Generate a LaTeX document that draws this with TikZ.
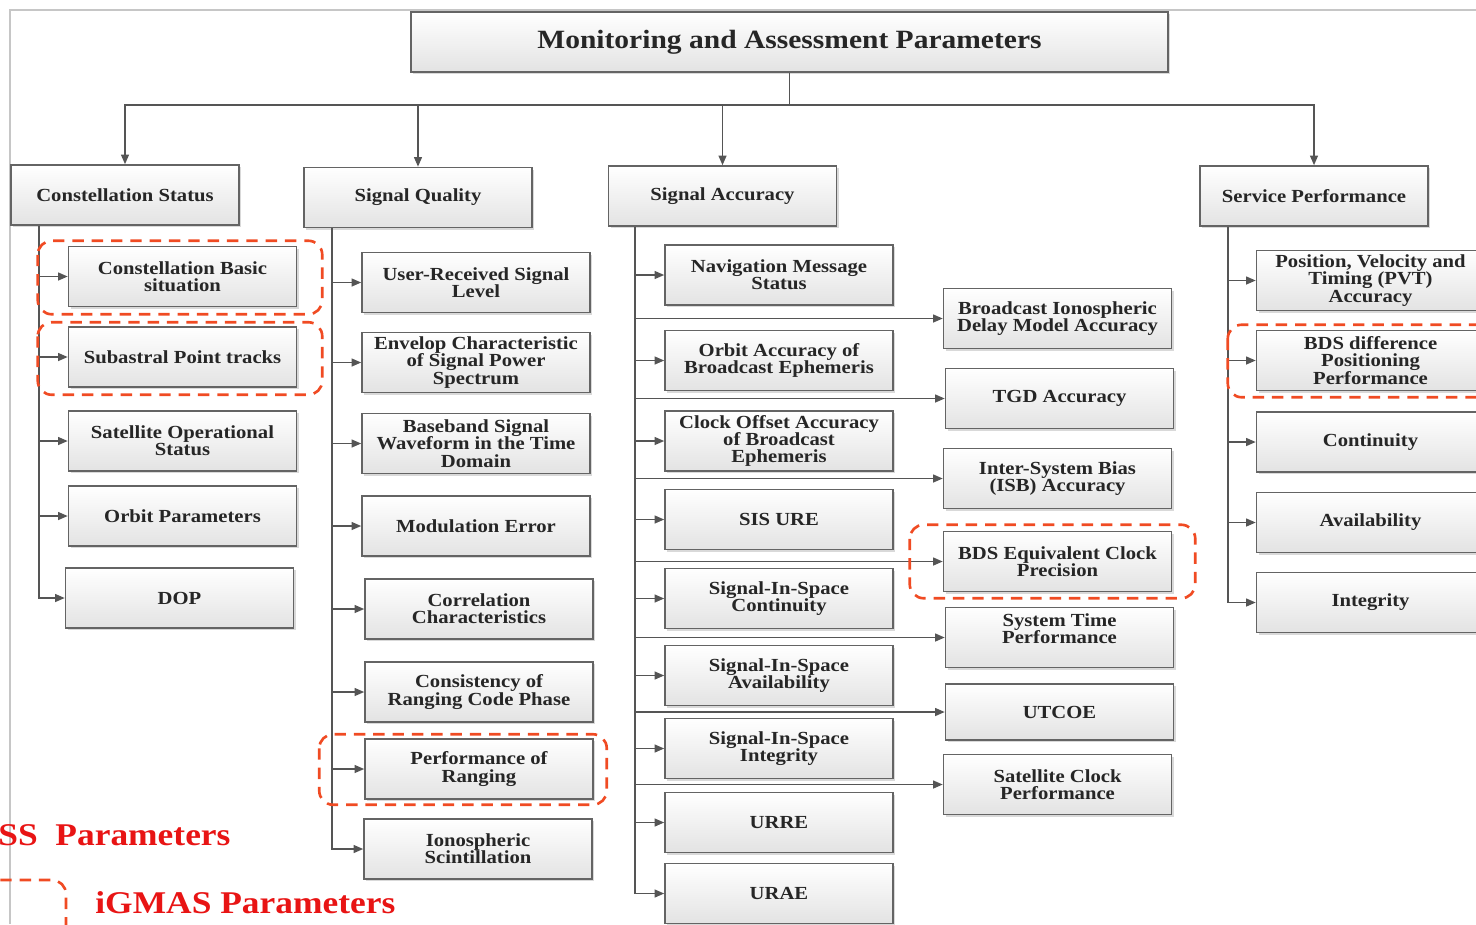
\documentclass[tikz,border=0pt]{standalone}
\usepackage{fontspec}
\setmainfont{Liberation Serif}[FakeStretch=1.12]
\usepackage{xcolor}
\usepackage{tikz}
\usetikzlibrary{arrows.meta,positioning,calc,shadows}
\definecolor{boxgray}{RGB}{100,100,100}
\definecolor{linkgray}{RGB}{85,85,85}
\definecolor{hlred}{RGB}{240,75,35}
\definecolor{legred}{RGB}{232,20,20}

\begin{document}
\begin{tikzpicture}[x=0.02cm, y=-0.02cm,
  pbox/.style={draw=boxgray, line width=0.9pt, top color=white, bottom color=gray!22,
               minimum width=4.56cm, minimum height=1.2cm, inner sep=1pt, align=center,
               font=\fontsize{10.5}{9.8}\selectfont\bfseries, text=black!85,
               drop shadow={shadow xshift=1.3pt, shadow yshift=-1.3pt, opacity=0.3}},
  arr/.style={-{Triangle[length=5.5pt,width=4.5pt]}, line width=0.9pt, draw=linkgray},
  link/.style={line width=0.9pt, draw=linkgray},
  hl/.style={draw=hlred, line width=1.5pt, dash pattern=on 6.5pt off 4.5pt, rounded corners=8pt},
  legend/.style={font=\fontsize{18}{20}\selectfont\bfseries, text=legred, inner sep=0pt, anchor=west}
]
\clip (0,0) rectangle (1476,924);
\draw[gray!45, line width=0.6pt] (10,924) -- (10,10) -- (1476,10);

% top level
\node[pbox, minimum width=15.14cm, font=\fontsize{15}{17}\selectfont\bfseries] (mon) at (789.5,42)
  {Monitoring and Assessment Parameters};

\node[pbox] (cs) at (125,195) {Constellation Status};
\node[pbox] (sq) at (418,197.5) {Signal Quality};
\node[pbox] (sa) at (722.5,196) {Signal Accuracy};
\node[pbox] (sp) at (1314,196) {Service Performance};

\draw[link] (mon.south) -- ++(0,32) coordinate (split);
\foreach \n in {cs,sq,sa,sp}
  \draw[arr] (split) -| (\n);

% constellation status
\node[pbox] (cb)  at (182.5,276.5) {Constellation Basic\\situation};
\node[pbox] (spt) at (182.5,357) {Subastral Point tracks};
\node[pbox] (sos) at (182.5,441) {Satellite Operational\\Status};
\node[pbox] (op)  at (182.5,516) {Orbit Parameters};
\node[pbox] (dop) at (179.5,598) {DOP};

\coordinate (csT) at ($(cs.south west)+(29,0)$);
\draw[arr] (csT) |- (dop);
\foreach \n in {cb,spt,sos,op}
  \draw[arr] (csT |- \n) -- (\n);

% signal quality
\node[pbox] (ursl) at (476,282.5) {User-Received Signal\\Level};
\node[pbox] (env)  at (476,362.5) {Envelop Characteristic\\of Signal Power\\Spectrum};
\node[pbox] (bsw)  at (476,443.5) {Baseband Signal\\Waveform in the Time\\Domain};
\node[pbox] (me)   at (476,526) {Modulation Error};
\node[pbox] (cc)   at (479,609) {Correlation\\Characteristics};
\node[pbox] (crcp) at (479,692) {Consistency of\\Ranging Code Phase};
\node[pbox] (pr)   at (479,769) {Performance of\\Ranging};
\node[pbox] (isc)  at (478,849) {Ionospheric\\Scintillation};

\coordinate (sqT) at ($(sq.south west)+(29,0)$);
\draw[arr] (sqT) |- (isc);
\foreach \n in {ursl,env,bsw,me,cc,crcp,pr}
  \draw[arr] (sqT |- \n) -- (\n);

% signal accuracy
\node[pbox] (nms)    at (779,275) {Navigation Message\\Status};
\node[pbox] (oabe)   at (779,360.5) {Orbit Accuracy of\\Broadcast Ephemeris};
\node[pbox] (coabe)  at (779,441) {Clock Offset Accuracy\\of Broadcast\\Ephemeris};
\node[pbox] (sisure) at (779,519.5) {SIS URE};
\node[pbox] (sisc)   at (779,598.5) {Signal-In-Space\\Continuity};
\node[pbox] (sisa)   at (779,675.5) {Signal-In-Space\\Availability};
\node[pbox] (sisi)   at (779,748.5) {Signal-In-Space\\Integrity};
\node[pbox] (urre)   at (779,822.5) {URRE};
\node[pbox] (urae)   at (779,893.5) {URAE};

\node[pbox] (bidm)  at (1057.5,318.5) {Broadcast Ionospheric\\Delay Model Accuracy};
\node[pbox] (tgd)   at (1059.5,398.5) {TGD Accuracy};
\node[pbox] (isb)   at (1057.5,478.5) {Inter-System Bias\\(ISB) Accuracy};
\node[pbox] (bdsec) at (1057.5,561.5) {BDS Equivalent Clock\\Precision};
\node[pbox] (stp)   at (1059.5,637.5) {System Time\\Performance\\\mbox{}};
\node[pbox, minimum height=1.12cm] (utcoe) at (1059.5,712) {UTCOE};
\node[pbox] (scp)   at (1057.5,784.5) {Satellite Clock\\Performance};

\coordinate (saT) at ($(sa.south west)+(27,0)$);
\draw[arr] (saT) |- (urae);
\foreach \n in {nms,oabe,coabe,sisure,sisc,sisa,sisi,urre,bidm,tgd,isb,bdsec,stp,utcoe,scp}
  \draw[arr] (saT |- \n) -- (\n);

% service performance
\node[pbox] (pvt)   at (1370.5,280.5) {Position, Velocity and\\Timing (PVT)\\Accuracy};
\node[pbox] (bdsdp) at (1370.5,360.5) {BDS difference\\Positioning\\Performance};
\node[pbox] (cont)  at (1370.5,442) {Continuity};
\node[pbox] (avail) at (1370.5,522.5) {Availability};
\node[pbox] (integ) at (1370.5,602.5) {Integrity};

\coordinate (spT) at ($(sp.south west)+(29,0)$);
\draw[arr] (spT) |- (integ);
\foreach \n in {pvt,bdsdp,cont,avail}
  \draw[arr] (spT |- \n) -- (\n);

% iGMAS highlights
\draw[hl] ($(cb.north west)+(-30,-5)$) rectangle ($(cb.south east)+(25,7)$);
\draw[hl] ($(spt.north west)+(-30,-4)$) rectangle ($(spt.south east)+(25,7)$);
\draw[hl] ($(pr.north west)+(-45,-4)$) rectangle ($(pr.south east)+(13,5)$);
\draw[hl] ($(bdsec.north west)+(-33,-6)$) rectangle ($(bdsec.south east)+(23,6)$);
\draw[hl] ($(bdsdp.north west)+(-28,-5)$) rectangle ($(bdsdp.south east)+(25,6)$);

% legend
\node[legend] (gnss) at (-2,835) {SS\ \ Parameters};
\draw[hl] (-60,880) rectangle (66,980);
\node[legend] (igmas) at (95,903) {iGMAS Parameters};
\end{tikzpicture}
\end{document}
